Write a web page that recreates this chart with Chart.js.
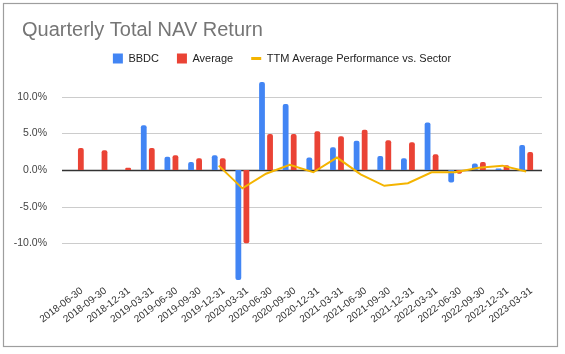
<!DOCTYPE html>
<html><head><meta charset="utf-8">
<script src="https://cdn.jsdelivr.net/npm/chart.js@4.4.1/dist/chart.umd.min.js"></script>
<style>html,body{margin:0;padding:0;background:#fff}#wrap{width:565px;height:354px;position:relative}</style>
</head><body><div id="wrap"><canvas id="c" width="565" height="354"></canvas></div>
<script>
const categories = ["2018-06-30","2018-09-30","2018-12-31","2019-03-31","2019-06-30","2019-09-30","2019-12-31","2020-03-31","2020-06-30","2020-09-30","2020-12-31","2021-03-31","2021-06-30","2021-09-30","2021-12-31","2022-03-31","2022-06-30","2022-09-30","2022-12-31","2023-03-31"];
const bbdc = [null, null, null, 6.1, 1.8, 1.1, 2.0, -15.0, 12.0, 9.0, 1.7, 3.1, 4.0, 1.9, 1.6, 6.5, -1.7, 0.9, 0.2, 3.4];
const average = [3.0, 2.7, 0.3, 3.0, 2.0, 1.6, 1.6, -10.0, 4.9, 4.9, 5.3, 4.6, 5.5, 4.05, 3.8, 2.15, -0.5, 1.1, 0.65, 2.45];
const ttm = [null, null, null, null, null, null, 0.6, -2.5, -0.5, 0.7, -0.3, 1.7, -0.6, -2.15, -1.8, -0.3, -0.3, 0.3, 0.6, -0.2];
const yTicks = [-10, -5, 0, 5, 10];
const yMin = -15, yMax = 13.1;

const BLUE = '#4285f4', RED = '#ea4335', YELLOW = '#f4b400';
Chart.defaults.font.family = "'Liberation Sans', Arial, sans-serif";

const framePlugin = {
  id: 'frame',
  afterLayout(chart) {
    if (chart.titleBlock) { chart.titleBlock.left = 22; }
    if (chart.legend) { chart.legend.left += 13; chart.legend.right += 13; }
  },
  beforeDraw(chart) {
    const ctx = chart.ctx;
    ctx.save();
    ctx.fillStyle = '#fff';
    ctx.fillRect(0, 0, chart.width, chart.height);
    ctx.strokeStyle = '#9e9e9e';
    ctx.lineWidth = 1.2;
    ctx.strokeRect(3.5, 3.5, chart.width - 11, chart.height - 11);
    ctx.restore();
  },
  beforeDatasetsDraw(chart) {
    const ctx = chart.ctx, y = chart.scales.y, a = chart.chartArea;
    ctx.save();
    y.ticks.forEach(t => {
      const py = Math.round(y.getPixelForValue(t.value)) + 0.5;
      ctx.beginPath();
      ctx.strokeStyle = t.value === 0 ? '#333' : '#cccccc';
      ctx.lineWidth = t.value === 0 ? 1.5 : 1;
      ctx.moveTo(a.left - 3, py);
      ctx.lineTo(a.right + 4, py);
      ctx.stroke();
    });
    ctx.restore();
  }
};

new Chart(document.getElementById('c'), {
  data: {
    labels: categories,
    datasets: [
      { type: 'bar', label: 'BBDC', data: bbdc, backgroundColor: BLUE, order: 1,
        borderRadius: 2, borderSkipped: 'start', categoryPercentage: 0.68, barPercentage: 0.72 },
      { type: 'bar', label: 'Average', data: average, backgroundColor: RED, order: 1,
        borderRadius: 2, borderSkipped: 'start', categoryPercentage: 0.68, barPercentage: 0.72 },
      { type: 'line', label: 'TTM Average Performance vs. Sector', data: ttm, borderColor: YELLOW,
        backgroundColor: YELLOW, borderWidth: 2, pointRadius: 0, tension: 0, order: 0 }
    ]
  },
  options: {
    responsive: false,
    animation: false,
    layout: { padding: { left: 0, right: 27, top: 0, bottom: 0 } },
    plugins: {
      tooltip: { enabled: false },
      title: {
        display: true, text: 'Quarterly Total NAV Return', align: 'start', color: '#757575',
        font: { size: 20, weight: 'normal', lineHeight: 0.45 }, padding: { top: 26, bottom: 0 }
      },
      legend: {
        display: true, position: 'top', align: 'center',
        labels: {
          color: '#222', font: { size: 11 }, boxWidth: 10, boxHeight: 10, padding: 18,
          usePointStyle: true, pointStyleWidth: 10,
          sort: (a, b) => a.datasetIndex - b.datasetIndex,
          generateLabels(chart) {
            const items = Chart.defaults.plugins.legend.labels.generateLabels(chart);
            items.forEach(it => {
              if (it.datasetIndex === 2) {
                it.pointStyle = 'line'; it.lineWidth = 3; it.strokeStyle = YELLOW;
              } else {
                it.pointStyle = 'rect'; it.lineWidth = 0;
              }
            });
            return items;
          }
        }
      }
    },
    scales: {
      x: {
        grid: { display: false }, border: { display: false },
        afterFit(s) { s.height = 74; },
        ticks: { autoSkip: false, minRotation: 37, maxRotation: 37, padding: -3, labelOffset: 5, color: '#333', font: { size: 10 } }
      },
      y: {
        min: yMin, max: yMax,
        grid: { display: false }, border: { display: false },
        afterFit(s) { s.width = 65; },
        afterBuildTicks(s) { s.ticks = yTicks.map(v => ({ value: v })); },
        ticks: { padding: 10, color: '#444', font: { size: 10.5 }, callback: v => v.toFixed(1) + '%' }
      }
    }
  },
  plugins: [framePlugin]
});
</script>
</body></html>
